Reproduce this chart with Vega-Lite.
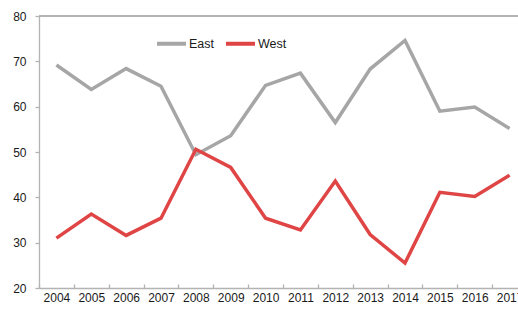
{
  "$schema": "https://vega.github.io/schema/vega-lite/v6.json",
  "width": 479,
  "height": 272,
  "autosize": {"type": "none"},
  "padding": {"left": 39, "top": 16, "right": 0, "bottom": 23},
  "background": "white",
  "config": {
    "view": {"stroke": null},
    "font": "Liberation Sans",
    "axis": {"grid": false, "domainColor": "#b3b3b3", "tickColor": "#b3b3b3", "labelColor": "#1a1a1a", "labelFontSize": 12, "domainWidth": 1.3, "tickWidth": 1.3}
  },
  "data": {
    "values": [
      {"year": "2004", "series": "East", "value": 69.2},
      {"year": "2005", "series": "East", "value": 63.8},
      {"year": "2006", "series": "East", "value": 68.4},
      {"year": "2007", "series": "East", "value": 64.5},
      {"year": "2008", "series": "East", "value": 49.4},
      {"year": "2009", "series": "East", "value": 53.6},
      {"year": "2010", "series": "East", "value": 64.7},
      {"year": "2011", "series": "East", "value": 67.4},
      {"year": "2012", "series": "East", "value": 56.5},
      {"year": "2013", "series": "East", "value": 68.3},
      {"year": "2014", "series": "East", "value": 74.6},
      {"year": "2015", "series": "East", "value": 59.0},
      {"year": "2016", "series": "East", "value": 59.9},
      {"year": "2017", "series": "East", "value": 55.2},
      {"year": "2004", "series": "West", "value": 31.0},
      {"year": "2005", "series": "West", "value": 36.3},
      {"year": "2006", "series": "West", "value": 31.6},
      {"year": "2007", "series": "West", "value": 35.4},
      {"year": "2008", "series": "West", "value": 50.6},
      {"year": "2009", "series": "West", "value": 46.6},
      {"year": "2010", "series": "West", "value": 35.4},
      {"year": "2011", "series": "West", "value": 32.8},
      {"year": "2012", "series": "West", "value": 43.6},
      {"year": "2013", "series": "West", "value": 31.8},
      {"year": "2014", "series": "West", "value": 25.5},
      {"year": "2015", "series": "West", "value": 41.1},
      {"year": "2016", "series": "West", "value": 40.2},
      {"year": "2017", "series": "West", "value": 44.9}
    ]
  },
  "layer": [
    {
      "mark": {"type": "rule", "color": "#b3b3b3", "strokeWidth": 1.3},
      "encoding": {"y": {"datum": 80}}
    },
    {
      "mark": {"type": "line", "strokeWidth": 3.5, "strokeJoin": "miter"},
      "encoding": {
        "x": {
          "field": "year", "type": "ordinal", "title": null,
          "scale": {"type": "band", "paddingInner": 0, "paddingOuter": 0, "range": [0, 488]},
          "axis": {"labelAngle": 0, "tickBand": "extent", "tickSize": -4, "labelPadding": 8}
        },
        "y": {
          "field": "value", "type": "quantitative", "title": null,
          "scale": {"domain": [20, 80], "nice": false, "zero": false},
          "axis": {"values": [20, 30, 40, 50, 60, 70, 80], "tickSize": 4, "labelPadding": 9}
        },
        "color": {
          "field": "series", "type": "nominal",
          "scale": {"domain": ["East", "West"], "range": ["#a6a6a6", "#e04545"]},
          "legend": {
            "title": null, "orient": "none", "direction": "horizontal",
            "legendX": 116, "legendY": 11,
            "symbolType": "stroke", "symbolSize": 841, "symbolStrokeWidth": 4,
            "labelFontSize": 12.5, "labelOffset": 1, "columnPadding": 3, "padding": 0,
            "labelColor": "#1a1a1a"
          }
        }
      }
    }
  ]
}
